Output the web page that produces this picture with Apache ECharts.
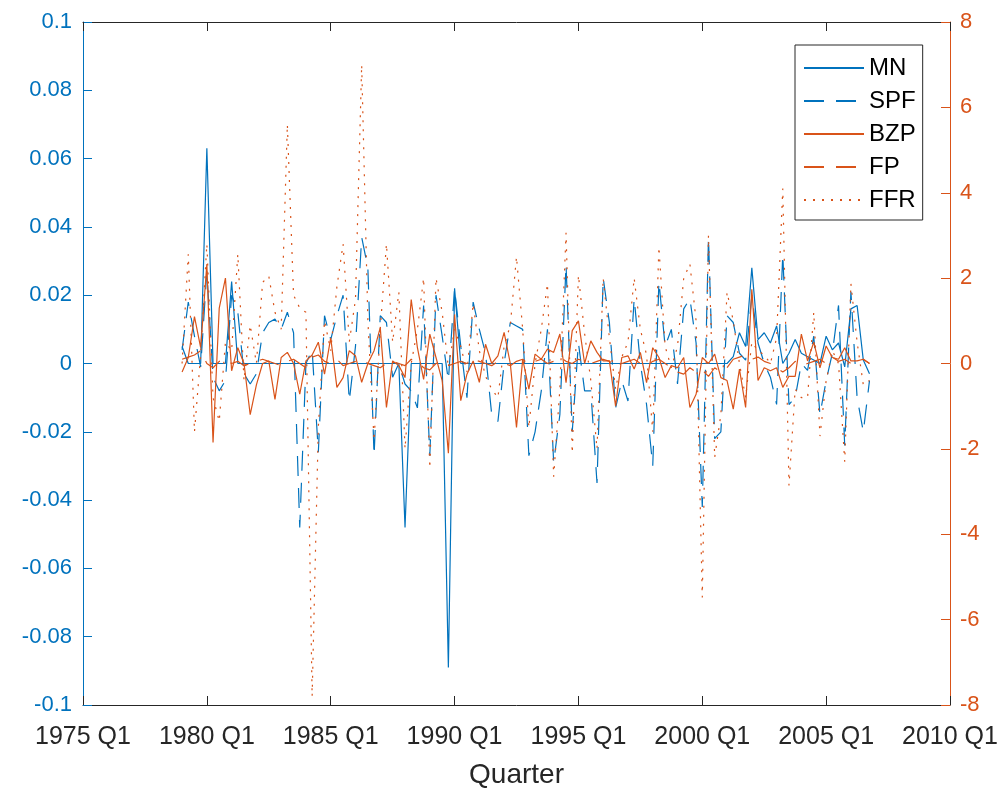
<!DOCTYPE html>
<html><head><meta charset="utf-8">
<script src="https://cdn.jsdelivr.net/npm/echarts@6/dist/echarts.min.js"></script>
<style>html,body{margin:0;padding:0;background:#fff}#c{width:1005px;height:794px}</style>
</head><body><div id="c"></div>
<script>
// Quarterly data, first point = 1979 Q1
const startYear = 1979;
const xTickYears = [1975, 1980, 1985, 1990, 1995, 2000, 2005, 2010];
const seriesNames = ['MN', 'SPF', 'BZP', 'FP', 'FFR'];

const MN = [
  0.005, 0, 0, 0, 0.063, 0, 0, 0,
  0.024, 0, 0, 0, 0, 0, 0, 0,
  0, 0, 0, 0, 0, 0, 0, 0,
  0, 0, 0, 0, 0, 0, 0, 0,
  0, 0, 0, 0, -0.048, 0, 0, 0,
  0, 0, 0, -0.089, 0.022, 0, 0, 0,
  0, 0, 0, 0, 0, 0, 0, 0,
  0, 0, 0, 0, 0, 0, 0, 0,
  0, 0, 0, 0, 0, 0, 0, 0,
  0, 0, 0, 0, 0, 0, 0, 0,
  0, 0, 0, 0, 0, 0, 0, 0,
  0, 0.002, 0.009, 0.005, 0.028, 0.007, 0.009, 0.006,
  0.011, 0.0, 0.003, 0.007, 0.003, 0.002, 0.001, 0.0,
  0.008, 0.004, 0.006, -0.001, 0.016, 0.017, 0.001, -0.003
];
const SPF = [
  0.004, 0.018, 0.008, -0.001, 0.027, -0.004, -0.008, -0.005,
  0.02, 0.015, -0.003, -0.006, -0.003, 0.009, 0.012, 0.013,
  0.01, 0.015, 0.009, -0.048, 0.0, 0.004, -0.026, 0.014,
  0.007, 0.014, 0.02, -0.011, 0.005, 0.037, 0.028, -0.027,
  0.014, 0.012, -0.004, 0.0, -0.006, -0.008, -0.013, 0.017,
  -0.027, 0.02, 0.008, -0.005, 0.022, 0.005, -0.01, 0.018,
  0.01, 0.003, -0.015, -0.017, 0.0, 0.012, 0.011, 0.01,
  -0.027, -0.02, -0.008, 0.01, -0.029, -0.015, 0.029, -0.02,
  0.006, -0.008, -0.008, -0.035, 0.025, 0.012, -0.013, -0.005,
  -0.011, 0.019, 0.0, -0.012, -0.03, 0.024, 0.005, 0.01,
  -0.006, 0.016, 0.019, 0.006, -0.042, 0.037, -0.022, -0.02,
  0.014, 0.012, 0.003, 0.001, 0.02, 0.006, 0.0, -0.004,
  -0.012, 0.032, -0.012, -0.01, 0.0, -0.002, 0.008, -0.015,
  -0.005, 0.003, 0.017, -0.024, 0.021, -0.01, -0.02, -0.005
];
const BZP = [
  -0.2, 0.14, 1.1, 0.37, 2.33, -1.85, 1.3, 2.0,
  -0.17, 0.37, 0.0, -1.2, -0.5, 0.0, 0.06, -0.84,
  0.14, 0.26, 0.0, -0.72, 0.06, 0.2, 0.5, -0.25,
  0.6, -0.56, -0.33, 0.3, 0.18, -0.44, 0.0, 0.3,
  0.84, -1.03, 0.06, -0.05, -0.33, 1.5, 0.37, -0.37,
  0.69, 0.14, -0.4, -2.1, 1.15, -0.87, -0.25, 0.06,
  -0.44, 0.45, 0.0, 0.18, 0.73, 0.0, -1.5, 0.1,
  -0.6, 0.22, 0.1, 0.34, 0.26, 0.69, -0.45, 0.77,
  1.0, 0.0, 0.53, 0.26, 0.06, 0.06, -1.0, 0.14,
  0.18, -0.13, 0.26, -0.45, 0.37, 0.14, -0.33, -0.05,
  -0.1, 0.14, -1.03, -0.72, 0.14, 0.0, 0.22, -0.33,
  -0.4, -1.07, -0.13, -1.03, 1.74, -0.4, -0.1, -0.17,
  -0.1, -0.56, -0.3, -0.3, 0.69, 0.06, 0.5, -0.1,
  0.41, 0.14, 0.1, 0.37, 0.06, 0.06, 0.1, 0.0
];
const FP = [
  0.1, 0.15, 0.2, 0.3, 0.0, -0.1, 0.05, 0.1,
  0.0, 0.05, -0.05, 0.0, 0.05, 0.1, 0.05, 0.0,
  -0.05, 0.05, 0.1, 0.0, -0.1, 0.15, 0.2, 0.05,
  0.0, 0.1, -0.05, 0.0, 0.05, 0.1, 0.0, -0.05,
  -0.1, 0.0, 0.05, 0.0, -0.05, 0.1, 0.05, -0.1,
  -0.15, 0.0, 0.05, -0.05, 0.0, 0.05, 0.0, 0.1,
  0.05, 0.0, -0.05, 0.05, 0.0, -0.05, 0.05, 0.1,
  0.0, 0.05, 0.1, 0.0, 0.05, 0.15, 0.05, 0.0,
  0.1, 0.05, 0.0, 0.05, 0.1, 0.05, -0.05, 0.0,
  0.05, 0.1, 0.0, -0.05, 0.05, 0.1, 0.0, -0.1,
  -0.2, -0.25, -0.1, -0.2, -0.15, -0.3, -0.1, -0.2,
  -0.1, 0.1, 0.15, 0.2, 0.1, 0.15, 0.05, 0.0,
  -0.1, -0.2, -0.1, 0.05, -0.05, 0.0, 0.05, 0.1,
  0.0, 0.15, 0.05, 0.1, 0.0, 0.05, 0.1, 0.0
];
const FFR = [
  0.0, 2.56, -1.6, 0.2, 2.8, -0.8, -1.35, 0.5,
  0.3, 2.56, -0.4, 0.9, 0.0, 1.9, 2.05, 1.2,
  0.8, 5.6, 1.6, 1.3, 1.2, -7.8, -1.5, 1.0,
  0.3, 1.8, 2.8, 0.5, 1.5, 7.0, 1.0, -1.8,
  0.8, 2.8, 0.5, 1.67, -2.0, 0.0, 0.8, 2.0,
  -2.45, 2.0, 1.2, -0.1, 0.8, 0.4, -0.2, 1.4,
  0.3, -0.3, -0.6, -0.8, 0.4, 0.9, 2.5, 0.8,
  -1.5, 0.0, 0.8, 1.87, -2.65, -0.6, 3.06, -2.1,
  2.07, 0.7, -0.4, -2.0, 2.0, 0.6, -0.6, 0.15,
  0.5, 2.0, 0.8, 0.2, -1.6, 2.73, 0.4, -0.1,
  0.4, 2.0, 2.33, 1.0, -5.48, 3.0, -2.2, -1.2,
  1.67, 1.0, 0.0, -0.8, 0.5, 0.3, 0.2, 0.0,
  0.6, 4.1, -2.86, -0.6, -0.8, -0.8, 1.2, -1.7,
  -0.4, 0.3, 0.0, -2.3, 1.87, 0.5, -0.5, -0.4
];

const BLUE = '#0072BD', ORANGE = '#D95319', AXIS = '#262626';
const FONT = '"Liberation Sans", Arial, Helvetica, sans-serif';
const toPts = arr => arr.map((v, i) => [startYear + i / 4, v]);
const fmt = v => String(Math.round(v * 1000) / 1000);

const chart = echarts.init(document.getElementById('c'), null, {renderer: 'canvas'});
const mkSeries = (name, data, color, yIdx, type) => ({
  name, type: 'line', data: toPts(data), yAxisIndex: yIdx, xAxisIndex: 0,
  symbol: 'none', showSymbol: false, animation: false,
  lineStyle: {color, width: 1.2, type}, itemStyle: {color}
});
chart.setOption({
  animation: false,
  backgroundColor: '#fff',
  textStyle: {fontFamily: FONT},
  grid: {left: 83, right: 55, top: 22, bottom: 89, containLabel: false},
  legend: {
    orient: 'vertical', left: 795, top: 45,
    data: seriesNames,
    itemWidth: 60, itemHeight: 14, itemGap: 7,
    padding: [10, 7, 7, 8],
    borderColor: AXIS, borderWidth: 1, backgroundColor: '#fff',
    itemStyle: {opacity: 0},
    textStyle: {fontSize: 24, color: '#000', fontFamily: FONT, lineHeight: 26}
  },
  xAxis: [{
    type: 'value', min: xTickYears[0], max: xTickYears[xTickYears.length - 1], interval: 5,
    position: 'bottom',
    name: 'Quarter', nameLocation: 'middle', nameGap: 56,
    nameTextStyle: {fontSize: 28, color: AXIS, fontFamily: FONT},
    axisLine: {show: true, onZero: false, lineStyle: {color: AXIS, width: 1}},
    axisTick: {show: true, inside: true, length: 9, lineStyle: {color: AXIS}},
    axisLabel: {fontSize: 25, color: AXIS, margin: 20, formatter: v => v + ' Q1', fontFamily: FONT},
    splitLine: {show: false}
  }, {
    type: 'value', min: xTickYears[0], max: xTickYears[xTickYears.length - 1], interval: 5,
    position: 'top',
    axisLine: {show: true, onZero: false, lineStyle: {color: AXIS, width: 1}},
    axisTick: {show: true, inside: true, length: 9, lineStyle: {color: AXIS}},
    axisLabel: {show: false}, splitLine: {show: false}
  }],
  yAxis: [{
    type: 'value', min: -0.1, max: 0.1, interval: 0.02, position: 'left',
    axisLine: {show: true, onZero: false, lineStyle: {color: BLUE, width: 1}},
    axisTick: {show: true, inside: true, length: 9, lineStyle: {color: BLUE}},
    axisLabel: {fontSize: 22, color: BLUE, margin: 11, formatter: fmt, fontFamily: FONT},
    splitLine: {show: false}
  }, {
    type: 'value', min: -8, max: 8, interval: 2, position: 'right',
    axisLine: {show: true, onZero: false, lineStyle: {color: ORANGE, width: 1}},
    axisTick: {show: true, inside: true, length: 9, lineStyle: {color: ORANGE}},
    axisLabel: {fontSize: 22, color: ORANGE, margin: 10, formatter: fmt, fontFamily: FONT},
    splitLine: {show: false}
  }],
  series: [
    mkSeries('MN', MN, BLUE, 0, 'solid'),
    mkSeries('SPF', SPF, BLUE, 0, [20, 12]),
    mkSeries('BZP', BZP, ORANGE, 1, 'solid'),
    mkSeries('FP', FP, ORANGE, 1, [20, 12]),
    mkSeries('FFR', FFR, ORANGE, 1, [2, 7])
  ]
});
</script></body></html>
